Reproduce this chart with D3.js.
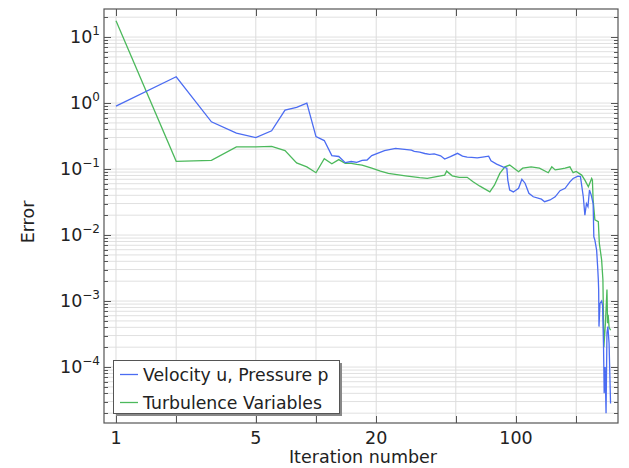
<!DOCTYPE html>
<html><head><meta charset="utf-8">
<script src="https://cdn.jsdelivr.net/npm/d3@7/dist/d3.min.js"></script>
<style>body{margin:0;background:#fff}svg{display:block;font-family:"DejaVu Sans",sans-serif}</style>
</head><body><svg id="c" width="629" height="468"></svg>
<script>
const seriesNames = ["Velocity u, Pressure p", "Turbulence Variables"];
const blueIter = [1,2,3,4,5,6,7,8,9,10,11,12,13,14,15,16,17,18,19,22,25,27,30,31,33,35,37,39,42,44,47,51,54,57,60,64,68,73,75,80,86,90,91,93,97,103,107,111,116,122,134,139,148,157,166,176,186,193,204,210,217,221,225,229,233,238,243,245,248,253,256,258,259,260,263,268,271,274,276,279,282,285,288,292,297];
const blueVal = [0.9,2.5,0.52,0.35,0.30,0.38,0.78,0.86,1.0,0.31,0.27,0.16,0.155,0.125,0.13,0.126,0.135,0.137,0.16,0.19,0.205,0.2,0.194,0.185,0.18,0.172,0.167,0.17,0.159,0.142,0.154,0.173,0.157,0.152,0.15,0.148,0.152,0.157,0.133,0.119,0.108,0.103,0.068,0.048,0.045,0.051,0.07,0.061,0.043,0.038,0.035,0.032,0.034,0.038,0.047,0.051,0.064,0.072,0.078,0.077,0.038,0.020,0.030,0.027,0.048,0.04,0.030,0.0094,0.0084,0.0059,0.0033,0.0021,0.0015,0.00041,0.00092,0.001,0.00086,0.0002,0.00004,0.0001,0.00002,0.00033,0.00041,0.00023,0.000028];
const greenIter = [1,2,3,4,5,6,7,8,9,10,11,12,13,14,15,16,17,19,21,23,28,33,36,42,44,45,48,52,57,61,66,74,78,83,88,93,97,103,108,119,131,145,151,157,166,176,186,193,200,213,221,230,239,241,243,248,258,261,268,272,275,280,285,287,289,292,297];
const greenVal = [17.7,0.131,0.135,0.216,0.216,0.22,0.19,0.124,0.108,0.088,0.144,0.12,0.139,0.122,0.122,0.118,0.115,0.103,0.093,0.086,0.079,0.074,0.072,0.079,0.081,0.093,0.079,0.075,0.075,0.064,0.055,0.045,0.057,0.086,0.108,0.115,0.105,0.091,0.103,0.108,0.103,0.088,0.108,0.097,0.1,0.103,0.108,0.088,0.092,0.081,0.068,0.054,0.072,0.068,0.034,0.017,0.016,0.0075,0.0042,0.0021,0.0002,0.00046,0.0015,0.00046,0.00062,0.0004,0.00036];
const xTicks = [1,2,5,10,20,50,100,200];
const xTickLabels = ["1","","5","","20","","100",""];
const yDecades = [-4,-3,-2,-1,0,1];
const axisTitles = {x:"Iteration number", y:"Error"};

const colors = ["#4b6cf2","#4cb95c"];
const L=104,R=618,T=9,B=423;
const svg=d3.select("#c");
const x=d3.scaleLog().domain([0.871,323.6]).range([L,R]);
const y=d3.scaleLog().domain([1.42e-5,26.6]).range([B,T]);

// grid
const yAll=[];
for(let e=-5;e<=1;e++){for(let m=1;m<=9;m++){const v=m*Math.pow(10,e); if(v>=1.42e-5&&v<=26.6) yAll.push({v,major:m===1});}}
const g=svg.append("g");
g.selectAll("line.hg").data(yAll).enter().append("line")
 .attr("x1",L).attr("x2",R).attr("y1",d=>y(d.v)).attr("y2",d=>y(d.v))
 .attr("stroke","#e0e0e0").attr("stroke-width",1);
g.selectAll("line.vg").data(xTicks).enter().append("line")
 .attr("y1",T).attr("y2",B).attr("x1",d=>x(d)).attr("x2",d=>x(d))
 .attr("stroke","#dcdcdc").attr("stroke-width",1);

// lines
const line=d3.line().x(d=>x(d[0])).y(d=>y(d[1]));
const bd=blueIter.map((t,i)=>[t,blueVal[i]]);
const gd=greenIter.map((t,i)=>[t,greenVal[i]]);
svg.append("clipPath").attr("id","cp").append("rect").attr("x",L).attr("y",T).attr("width",R-L).attr("height",B-T);
const pl=svg.append("g").attr("clip-path","url(#cp)");
pl.append("path").attr("d",line(gd)).attr("fill","none").attr("stroke",colors[1]).attr("stroke-width",1.3);
pl.append("path").attr("d",line(bd)).attr("fill","none").attr("stroke",colors[0]).attr("stroke-width",1.3);

// frame
svg.append("rect").attr("x",L).attr("y",T).attr("width",R-L).attr("height",B-T).attr("fill","none").attr("stroke","#555").attr("stroke-width",1.2);

// ticks (inward)
const tk=svg.append("g").attr("stroke","#555").attr("stroke-width",1);
yAll.forEach(d=>{const yy=Math.round(y(d.v))+0.5; const len=d.major?7:4;
 tk.append("line").attr("x1",L).attr("x2",L+len).attr("y1",yy).attr("y2",yy);
 tk.append("line").attr("x1",R).attr("x2",R-len).attr("y1",yy).attr("y2",yy);});
xTicks.forEach(d=>{const xx=Math.round(x(d))+0.5;
 tk.append("line").attr("x1",xx).attr("x2",xx).attr("y1",B).attr("y2",B-7);
 tk.append("line").attr("x1",xx).attr("x2",xx).attr("y1",T).attr("y2",T+7);});

// y labels
yDecades.forEach(e=>{const t=svg.append("text").attr("x",100).attr("y",y(Math.pow(10,e))+6).attr("text-anchor","end").attr("font-size",17.5).attr("fill","#222");
 t.append("tspan").text("10");
 t.append("tspan").attr("font-size",12).attr("dy",-8).text(e<0?"\u2212"+(-e):String(e));});
// x labels
xTicks.forEach((d,i)=>{if(xTickLabels[i]) svg.append("text").attr("x",x(d)).attr("y",444).attr("text-anchor","middle").attr("font-size",17.5).attr("fill","#222").text(xTickLabels[i]);});
svg.append("text").attr("x",363).attr("y",463).attr("text-anchor","middle").attr("font-size",17.5).attr("fill","#222").text(axisTitles.x);
svg.append("text").attr("transform","translate(34,222) rotate(-90)").attr("text-anchor","middle").attr("font-size",17.5).attr("fill","#222").text(axisTitles.y);

// legend
const lg=svg.append("g");
lg.append("rect").attr("x",116).attr("y",363).attr("width",226).attr("height",53).attr("fill","#888");
lg.append("rect").attr("x",113.5).attr("y",360.5).attr("width",226).attr("height",53).attr("fill","#fff").attr("stroke","#555").attr("stroke-width",1);
seriesNames.forEach((n,i)=>{const yy=374+i*28;
 lg.append("line").attr("x1",120).attr("x2",138).attr("y1",yy+0.5).attr("y2",yy+0.5).attr("stroke",colors[i]).attr("stroke-width",1.3);
 lg.append("text").attr("x",143).attr("y",yy+6.5).attr("font-size",17.3).attr("fill","#222").text(n);});
</script></body></html>
